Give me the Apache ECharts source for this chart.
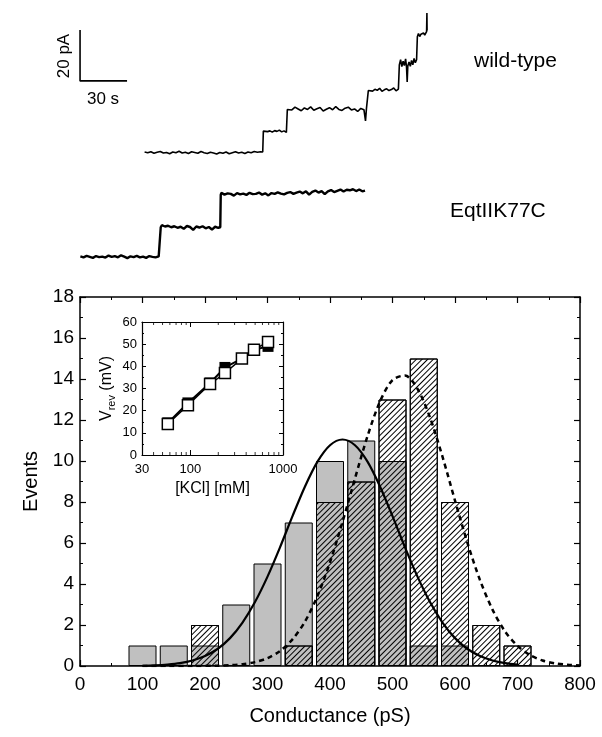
<!DOCTYPE html>
<html><head><meta charset="utf-8">
<script src="https://cdn.jsdelivr.net/npm/echarts@6/dist/echarts.min.js"></script>
<style>html,body{margin:0;padding:0;background:#fff}#c{width:602px;height:737px}</style>
</head><body><div id="c"></div>
<script>
// ---------- DATA ----------
const histBins = [100,150,200,250,300,350,400,450,500,550,600,650,700];
const wildTypeCounts = [1,1,1,3,5,7,10,11,10,1,1,0,0];
const k77cCounts = [0,0,2,0,0,1,8,9,13,15,8,2,1];

const fitSolidX = [100,120,140,160,180,200,220,240,260,280,300,320,340,360,380,400,420,440,460,480,500,520,540,560,580,600,620,640,660,680,700];
const fitSolidY = [0.01,0.03,0.07,0.14,0.27,0.49,0.83,1.36,2.12,3.12,4.36,5.79,7.31,8.76,9.97,10.77,11.05,10.77,9.97,8.76,7.31,5.79,4.36,3.12,2.12,1.36,0.83,0.49,0.27,0.14,0.07];

const fitDashX = [100,140,180,220,240,260,280,300,320,340,360,380,400,420,440,460,480,500,520,540,560,580,600,620,640,660,680,700,720,740,760,780,800];
const fitDashY = [0,0,0.003,0.016,0.04,0.09,0.19,0.38,0.73,1.30,2.17,3.42,5.06,7.02,9.15,11.21,12.90,13.95,14.17,13.52,12.12,10.21,8.07,6.00,4.19,2.75,1.69,0.98,0.53,0.27,0.13,0.06,0.02];

const kclConc = [57,94,163,236,360,486,689];
const vrevOpen = [14,22.5,32,37,43.5,47.5,51];
const vrevFilled = [14.5,23.5,32.5,39.5,43.5,47.5,49];
const logMinorTicks = [40,50,60,70,80,90,200,300,400,500,600,700,800,900];

const scaleBar = [[12.8,92.2],[12.8,72.2],[42.8,72.2]]; // 20 pA, 30 s

const wtTrace = [[54,44.3],[56,44.0],[58,44.4],[60,43.8],[62,44.2],[64,44.5],[66,43.9],[68,44.1],[70,43.6],[72,44.3],[74,44.0],[76,44.6],[78,43.9],[80,44.2],[82,43.7],[84,44.4],[86,44.1],[88,43.8],[90,44.5],[92,44.0],[94,43.7],[96,44.2],[98,43.9],[100,43.5],[102,44.1],[104,43.8],[106,44.3],[108,43.6],[110,44.0],[112,44.4],[114,43.9],[116,44.2],[118,43.7],[120,44.3],[122,44.0],[124,44.5],[126,44.2],[128,44.4],
[129.4,44.3],[129.8,52.5],
[131,52.8],[132.5,52.3],[134,52.6],[135.5,52.1],[137,52.7],[138.5,52.4],[140,52.9],[141.5,52.2],[143,52.6],[144.5,52.0],[144.8,52.4],[145.1,61.0],
[146,61.5],[148,60.8],[150,61.9],[152,61.2],[154,60.5],[156,61.6],[158,61.0],[160,62.0],[162,60.7],[164,61.3],[166,61.8],[168,60.4],[170,61.1],[172,61.7],[174,60.9],[176,62.1],[178,61.0],[180,60.6],[182,61.5],[184,61.9],[186,60.8],[188,61.2],[190,60.2],[192,61.4],[194,60.9],[195,56.5],[195.6,61.3],[196.4,61.0],[196.8,68.4],
[198,69.0],[199.5,68.2],[201,68.9],[202.5,68.5],[204,69.3],[205.5,68.1],[207,68.7],[208.5,69.1],[210,68.4],[211.5,68.8],[213,69.4],[214.5,68.3],[216,69.0],[216.3,69.5],[216.6,78.5],
[217.4,80.5],[218.2,77.8],[219,79.9],[219.8,78.2],[220.6,80.8],[221.2,77.5],[221.6,71.8],[222.0,78.0],[222.8,79.6],[223.6,77.9],[224.4,80.2],[225.2,78.5],[226,81.0],[226.8,79.3],[227.6,80.5],[227.9,81.0],[228.1,89.5],
[228.8,90.8],[229.6,89.6],[230.4,90.5],[231.2,89.9],[232,91.0],[232.8,90.2],[233.6,90.8],[234.0,91.5],[234.2,98.8],[234.3,92.0]];

const k77cTrace = [[13,3.4],[15,3.0],[17,3.6],[19,3.2],[21,2.8],[23,3.5],[25,3.1],[27,3.3],[29,2.9],[31,3.7],[33,3.2],[35,3.5],[37,3.0],[39,3.8],[41,3.3],[43,2.7],[45,3.4],[47,3.1],[49,3.6],[51,3.0],[53,3.3],[55,2.8],[57,3.5],[59,3.2],[61,3.0],[63,3.4],[64.0,3.4],[64.3,14.8],
[65,15.6],[67,15.1],[69,15.4],[71,14.8],[73,15.2],[75,14.6],[77,15.0],[79,14.2],[81,15.3],[83,14.9],[85,13.8],[87,15.1],[89,14.7],[91,15.2],[93,14.4],[95,14.9],[97,13.9],[99,15.0],[101,14.6],[102.3,14.8],[102.6,27.5],
[103,28.3],[105,27.6],[107,28.1],[109,27.9],[111,27.2],[113,28.2],[115,27.7],[117,28.0],[119,27.5],[121,28.3],[123,27.8],[125,27.9],[127,28.4],[129,27.6],[131,28.1],[133,27.3],[135,28.2],[137,27.9],[139,28.5],[141,28.0],[143,27.7],[145,28.3],[147,28.6],[149,27.9],[151,28.4],[153,28.8],[155,28.1],[157,28.9],[159,27.6],[161,28.7],[163,29.2],[165,28.4],[167,29.0],[169,27.8],[171,28.9],[173,29.4],[175,28.6],[177,29.1],[179,29.6],[181,28.8],[183,29.5],[185,29.3],[187,29.7],[189,29.0],[191,29.6],[193,28.9],[194.7,29.2]];

// ---------- BUILD ----------
const FONT = '"Liberation Sans", Arial, Helvetica, sans-serif';
const wtBars = histBins.map((b,i)=>[b, wildTypeCounts[i]]).filter(d=>d[1]>0);
const k77Bars = histBins.map((b,i)=>[b, k77cCounts[i]]).filter(d=>d[1]>0);
const fitSolid = fitSolidX.map((x,i)=>[x, fitSolidY[i]]);
const fitDash = fitDashX.map((x,i)=>[x, fitDashY[i]]);
const insetOpen = kclConc.map((c,i)=>[c, vrevOpen[i]]);
const insetFilled = kclConc.map((c,i)=>[c, vrevFilled[i]]);

const black = '#000';
function mainX(pos, showLabel){
  return {gridIndex:0, type:'value', min:0, max:800, interval:100, position:pos,
    axisLine:{onZero:false, lineStyle:{color:black,width:1.5}},
    axisTick:{inside:true,length:6,lineStyle:{color:black,width:1.2}},
    minorTick:{show:true,splitNumber:2,length:3,lineStyle:{color:black,width:1}},
    splitLine:{show:false},
    axisLabel:{show:showLabel,color:black,fontSize:19,fontFamily:FONT,margin:9}};
}
function mainY(pos, showLabel){
  return {gridIndex:0, type:'value', min:0, max:18, interval:2, position:pos,
    axisLine:{onZero:false, lineStyle:{color:black,width:1.5}},
    axisTick:{inside:true,length:6,lineStyle:{color:black,width:1.2}},
    minorTick:{show:true,splitNumber:2,length:3,lineStyle:{color:black,width:1}},
    splitLine:{show:false},
    axisLabel:{show:showLabel,color:black,fontSize:19,fontFamily:FONT,margin:6}};
}
function insetX(pos, showLabel){
  return {gridIndex:1, type:'log', logBase:10, min:30, max:1000, position:pos,
    axisLine:{onZero:false, lineStyle:{color:black,width:1.2}},
    axisTick:{inside:true,length:5,lineStyle:{color:black,width:1}},
    minorTick:{show:false}, splitLine:{show:false},
    axisLabel:{show:showLabel,color:black,fontSize:13,fontFamily:FONT,margin:8,
      formatter:v=>String(Math.round(v))}};
}
function insetY(pos, showLabel){
  return {gridIndex:1, type:'value', min:0, max:60, interval:10, position:pos,
    axisLine:{onZero:false, lineStyle:{color:black,width:1.2}},
    axisTick:{inside:true,length:4,lineStyle:{color:black,width:1}},
    minorTick:{show:true,splitNumber:2,length:2,lineStyle:{color:black,width:1}},
    splitLine:{show:false},
    axisLabel:{show:showLabel,color:black,fontSize:13,fontFamily:FONT,margin:5}};
}

const xMainB = mainX('bottom', true);
Object.assign(xMainB, {name:'Conductance (pS)', nameLocation:'middle', nameGap:40,
  nameTextStyle:{color:black,fontSize:20,fontFamily:FONT}});
const yMainL = mainY('left', true);
Object.assign(yMainL, {name:'Events', nameLocation:'middle', nameGap:33,
  nameTextStyle:{color:black,fontSize:20,fontFamily:FONT}});
const xInB = insetX('bottom', true);
Object.assign(xInB, {name:'[KCl] [mM]', nameLocation:'middle', nameGap:26,
  nameTextStyle:{color:black,fontSize:16,fontFamily:FONT}});
const yInL = insetY('left', true);
Object.assign(yInL, {name:'{v|V}{s|rev}{v| (mV)}', nameLocation:'middle', nameGap:25,
  nameTextStyle:{color:black,fontFamily:FONT,
    rich:{v:{fontSize:16,fontFamily:FONT,color:black}, s:{fontSize:11,fontFamily:FONT,color:black,padding:[9,0,0,0]}}}});

const option = {
  animation:false,
  backgroundColor:'#fff',
  grid:[
    {left:80, right:22, top:297, bottom:71},
    {left:142, right:319, top:322, bottom:282},
    {left:60, width:376, top:10, height:255}
  ],
  xAxis:[xMainB, mainX('top', false), xInB, insetX('top', false),
    {gridIndex:2, type:'value', min:0, max:240, show:false}],
  yAxis:[yMainL, mainY('right', false), yInL, insetY('right', false),
    {gridIndex:2, type:'value', min:0, max:100, show:false}],
  graphic:[
    {type:'text', left:474, top:51, style:{text:'wild-type', fontSize:21, fontFamily:FONT, fill:black}},
    {type:'text', left:450, top:201, style:{text:'EqtIIK77C', fontSize:21, fontFamily:FONT, fill:black}},
    {type:'text', x:64, y:56, rotation:Math.PI/2, style:{text:'20 pA', fontSize:17, fontFamily:FONT, fill:black, align:'center', verticalAlign:'middle'}},
    {type:'text', x:103, y:99, style:{text:'30 s', fontSize:17, fontFamily:FONT, fill:black, align:'center', verticalAlign:'middle'}}
  ],
  series:[
    {type:'bar', xAxisIndex:0, yAxisIndex:0, data:wtBars, barWidth:28, barGap:'-100%',
      itemStyle:{color:'#c0c0c0', borderColor:black, borderWidth:1}},
    {type:'bar', xAxisIndex:0, yAxisIndex:0, data:k77Bars, barWidth:28, barGap:'-100%',
      itemStyle:{color:'rgba(255,255,255,0)', borderColor:black, borderWidth:1,
        decal:{symbol:'rect', symbolSize:1, dashArrayX:[1,0], dashArrayY:[1,3], rotation:-Math.PI/4, color:'#000'}}},
    {type:'line', xAxisIndex:0, yAxisIndex:0, data:fitSolid, symbol:'none', smooth:0.3,
      lineStyle:{color:black,width:2.2}},
    {type:'line', xAxisIndex:0, yAxisIndex:0, data:fitDash, symbol:'none', smooth:0.3,
      lineStyle:{color:black,width:2.5,type:[5,4]}},
    {type:'line', xAxisIndex:2, yAxisIndex:2, data:insetFilled, symbol:'rect', symbolSize:11,
      lineStyle:{color:black,width:2}, itemStyle:{color:black}},
    {type:'line', xAxisIndex:2, yAxisIndex:2, data:insetOpen, symbol:'rect', symbolSize:11,
      lineStyle:{color:black,width:1.5}, itemStyle:{color:'#fff', borderColor:black, borderWidth:1.5}},
    {type:'scatter', xAxisIndex:2, yAxisIndex:2, data:logMinorTicks.map(v=>[v,0]), symbol:'rect',
      symbolSize:[1,3], symbolOffset:[0,-1.5], itemStyle:{color:black}, clip:false, silent:true},
    {type:'scatter', xAxisIndex:2, yAxisIndex:2, data:logMinorTicks.map(v=>[v,60]), symbol:'rect',
      symbolSize:[1,3], symbolOffset:[0,1.5], itemStyle:{color:black}, clip:false, silent:true},
    {type:'line', xAxisIndex:4, yAxisIndex:4, data:scaleBar, symbol:'none',
      lineStyle:{color:black,width:1.6}},
    {type:'line', xAxisIndex:4, yAxisIndex:4, data:wtTrace, symbol:'none',
      lineStyle:{color:black,width:1.6}},
    {type:'line', xAxisIndex:4, yAxisIndex:4, data:k77cTrace, symbol:'none',
      lineStyle:{color:black,width:2.4}}
  ]
};
const chart = echarts.init(document.getElementById('c'), null, {renderer:'canvas'});
chart.setOption(option);
</script></body></html>
